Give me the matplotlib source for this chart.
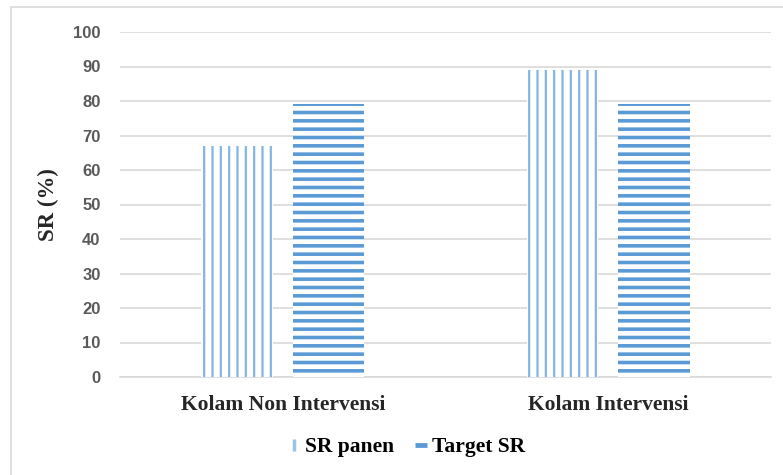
import matplotlib
matplotlib.use("Agg")
import matplotlib.pyplot as plt
import numpy as np
from matplotlib.lines import Line2D
from matplotlib.patches import Rectangle

# data
categories = ["Kolam Non Intervensi", "Kolam Intervensi"]
sr_panen = [67, 89]
target_sr = [79, 79]
series_names = ["SR panen", "Target SR"]
y_ticks = [0, 10, 20, 30, 40, 50, 60, 70, 80, 90, 100]

BLUE = "#5B9BD5"
LIGHT_BLUE = "#84B5E3"
GRID = "#D9D9D9"
TICK_GRAY = "#595959"
TEXT_DARK = "#262626"

fig = plt.figure(figsize=(7.83, 4.75), dpi=100)
ax = fig.add_axes([120 / 783, 1 - 377 / 475, 651 / 783, 345 / 475])

# outer frame of the chart (left + top edge visible)
fig.patches.append(Rectangle((10.5 / 783, -0.1), 1.2, 1 - 7 / 475 + 0.1,
                             transform=fig.transFigure, fill=False,
                             edgecolor=GRID, linewidth=1.2, clip_on=False))

x = np.arange(len(categories))
width = 0.22
offset = 0.14

b1 = ax.bar(x - offset, sr_panen, width, facecolor="white", edgecolor=LIGHT_BLUE,
            linewidth=0, hatch="||", zorder=3)
b2 = ax.bar(x + offset, target_sr, width, facecolor="white", edgecolor=BLUE,
            linewidth=0, hatch="--", zorder=3)
for p in b1:
    if hasattr(p, "set_hatch_linewidth"):
        p.set_hatch_linewidth(1.6)
for p in b2:
    if hasattr(p, "set_hatch_linewidth"):
        p.set_hatch_linewidth(2.6)

ax.set_xlim(-0.5, 1.5)
ax.set_ylim(0, 100)
ax.set_yticks(y_ticks)
ax.set_yticklabels([str(v) for v in y_ticks], fontfamily="Liberation Sans",
                   fontweight="bold", fontsize=12, color=TICK_GRAY)
ax.set_xticks(x)
ax.set_xticklabels(categories, fontfamily="Liberation Serif", fontweight="bold",
                   fontsize=15.5, color=TEXT_DARK)
ax.tick_params(axis="both", length=0)
ax.tick_params(axis="y", pad=14)
ax.tick_params(axis="x", pad=13)

ax.yaxis.grid(True, color=GRID, linewidth=1.2, zorder=0)
ax.set_axisbelow(True)
for side in ["left", "right", "top"]:
    ax.spines[side].set_visible(False)
ax.spines["bottom"].set_color(GRID)
ax.spines["bottom"].set_linewidth(1.2)

ax.set_ylabel("SR (%)", fontfamily="Liberation Serif", fontweight="bold",
              fontsize=16.5, color=TEXT_DARK)
ax.yaxis.set_label_coords(-0.093, 0.5)

handles = [
    Line2D([], [], linestyle="none", marker="|", markersize=9, markeredgewidth=2.5,
           color="#9DC3E6"),
    Line2D([], [], linestyle="none", marker="_", markersize=8, markeredgewidth=3.5,
           color=BLUE),
]
fig.legend(handles, series_names, loc="center", bbox_to_anchor=(407 / 783, 1 - 447 / 475),
           ncol=2, frameon=False, handlelength=0.5, handletextpad=0.25,
           columnspacing=1.0,
           prop={"family": "Liberation Serif", "weight": "bold", "size": 15.5})

plt.savefig("out.png", dpi=100)
